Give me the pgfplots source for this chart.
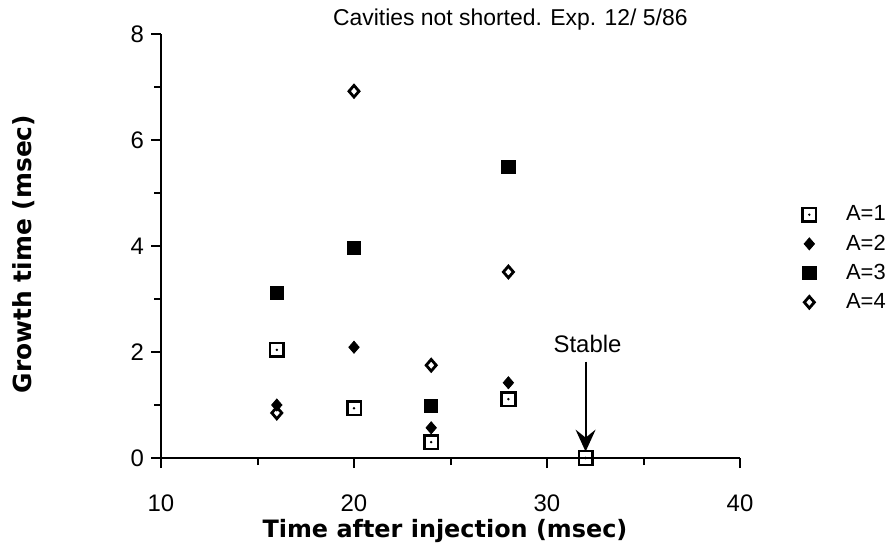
\documentclass[border=0pt]{standalone}
\usepackage{pgfplots}
\pgfplotsset{compat=1.18}
\usepackage{fontspec}
\setmainfont{Liberation Sans}
\newfontfamily\labelfont{DejaVu Sans}
\usetikzlibrary{arrows.meta}

% open square with a dot in the middle
\pgfdeclareplotmark{sqdot}{%
  \pgfpathrectangle{\pgfpoint{-\pgfplotmarksize}{-\pgfplotmarksize}}{\pgfpoint{2\pgfplotmarksize}{2\pgfplotmarksize}}%
  \pgfusepathqstroke
  \pgfpathcircle{\pgfpointorigin}{0.2\pgfplotmarksize}%
  \pgfusepathqfill}

\begin{document}
\begin{tikzpicture}
\useasboundingbox (0,0) rectangle (444bp,272.5bp);
\begin{axis}[
  at={(80.5bp,43.5bp)}, anchor=south west,
  scale only axis, width=289.5bp, height=212bp,
  xmin=10, xmax=40, ymin=0, ymax=8,
  axis lines=left, axis line style={-, line width=1.1bp},
  xtick={10,20,30,40}, minor xtick={15,25,35},
  ytick={0,2,4,6,8}, minor ytick={1,3,5,7},
  tick align=outside, major tick length=5bp, minor tick length=3.5bp,
  tick style={line width=1bp, black},
  tick label style={font=\fontsize{12}{14}\selectfont},
  xticklabel style={yshift=-10bp},
  /pgf/number format/assume math mode=true,
  xlabel={Time after injection (msec)},
  ylabel={Growth time (msec)},
  xlabel style={font=\fontsize{12}{14}\labelfont\bfseries,
    at={(axis description cs:0.4905,-0.172)}, anchor=center},
  ylabel style={font=\fontsize{12.5}{14}\labelfont\bfseries,
    at={(axis description cs:-0.2366,0.481)}, anchor=center},
  clip=false,
  legend style={draw=none, fill=none, at={(1.097,0.4705)}, anchor=west,
    font=\fontsize{11}{13}\selectfont, row sep=1.5bp,
    /tikz/every odd column/.append style={column sep=13bp}},
  legend cell align=left,
]
\addplot[only marks, mark=sqdot, mark size=3.4bp, line width=1.3bp] coordinates {(16,2.04) (20,0.94) (24,0.30) (28,1.11) (32,0)};
\addplot[only marks, mark=diamond*, mark size=3bp, mark options={xscale=1.15}] coordinates {(16,1.00) (20,2.09) (24,0.57) (28,1.42)};
\addplot[only marks, mark=square*, mark size=3.3bp] coordinates {(16,3.11) (20,3.96) (24,0.98) (28,5.49)};
\addplot[only marks, mark=diamond, mark size=2.9bp, line width=1.4bp, mark options={xscale=1.15}] coordinates {(16,0.85) (20,6.92) (24,1.75) (28,3.51)};
\legend{A=1, A=2, A=3, A=4}
\draw[line width=1bp, -{Stealth[length=11bp, width=10bp, inset=4bp]}] (axis cs:32,1.82) -- (axis cs:32,0.12);
\node[font=\fontsize{12}{14}\selectfont] at (axis cs:32.1,2.16) {Stable};
\node[font=\fontsize{11.5}{14}\selectfont] at (axis cs:28.1,8.27) {Cavities not shorted. Exp. 12/ 5/86};
\end{axis}
\end{tikzpicture}
\end{document}
